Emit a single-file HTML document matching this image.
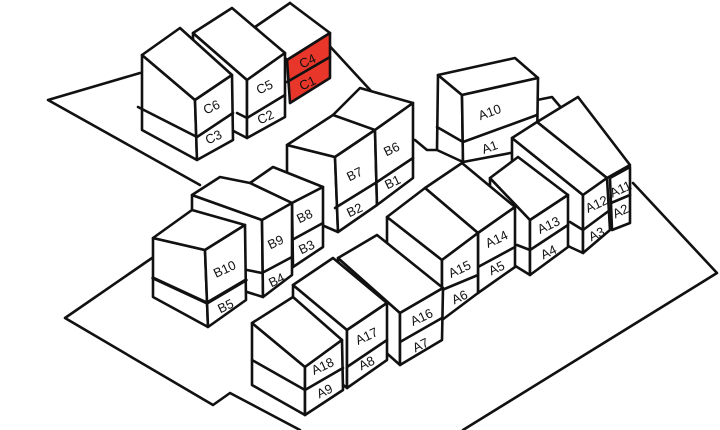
<!DOCTYPE html>
<html><head><meta charset="utf-8"><style>
html,body{margin:0;padding:0;background:#fff;}
svg{display:block;}
polygon,polyline,line{stroke:#111;stroke-width:2.6;stroke-linejoin:round;stroke-linecap:round;}
polygon{fill:#fff;}
polyline,line{fill:none;}
text{font-family:"Liberation Sans",sans-serif;font-size:13px;fill:#111;text-anchor:middle;dominant-baseline:middle;}
</style></head><body>
<svg width="720" height="430" viewBox="0 0 720 430" xmlns="http://www.w3.org/2000/svg">
<polyline points="140,73 48,100 200,185"/>
<polyline points="152,258 65,318 213,405 230,393 300,430"/>
<polyline points="633,183 717,273 463,430"/>
<polyline points="290,3 372,92"/>
<polyline points="415,140 427,150 436,150"/>
<polyline points="537,100 552,97 563,110"/>

<polygon points="255,27 290,3 330,33 287,60"/>
<polygon points="287,60 330,33 330,78 290,103" style="fill:#e8372a"/>
<line x1="287" y1="82" x2="330" y2="57"/>
<polygon points="193,33 247,80 247,138 193,110"/>
<polygon points="193,33 232,8 285,53 247,80"/>
<polygon points="247,80 285,53 285,117 247,138"/>
<polyline points="237,113 247,118 285,95"/>
<polygon points="142,55 195,100 197,160 142,130"/>
<polygon points="142,55 180,28 232,75 195,100"/>
<polygon points="195,100 232,75 233,140 197,160"/>
<polyline points="138,107 197,137 233,113"/>

<polygon points="438,75 462,95 463,162 437,150"/>
<polygon points="438,75 515,58 538,78 462,95"/>
<polygon points="462,95 538,78 537,148 463,162"/>
<polyline points="437,127 463,142 537,115"/>

<polygon points="287,145 335,157 338,232 287,210"/>
<polygon points="287,145 333,115 360,88 413,103 375,130 335,157"/>
<line x1="333" y1="115" x2="375" y2="130"/>
<polygon points="335,157 375,130 377,205 338,232"/>
<polygon points="375,130 413,103 413,178 377,205"/>
<polyline points="335,208 377,182 413,158"/>

<polygon points="537,122 578,97 630,165 607,178"/>
<polygon points="512,138 583,195 583,253 570,247 512,205"/>
<polygon points="512,138 537,122 607,178 583,195"/>
<polygon points="583,195 607,178 610,230 583,253"/>
<polyline points="570,222 583,230 610,210"/>
<polygon points="610,178 630,167 630,223 612,230"/>
<line x1="611" y1="203" x2="630" y2="195"/>

<polygon points="490,178 530,220 530,275 517,267 490,250"/>
<polygon points="490,178 518,157 568,195 530,220"/>
<polygon points="530,220 568,195 568,247 530,275"/>
<polyline points="517,245 530,250 568,225"/>
<polygon points="425,188 478,233 478,293 425,260"/>
<polygon points="425,188 462,163 515,207 478,233"/>
<polygon points="478,233 515,207 515,267 478,293"/>
<line x1="478" y1="267" x2="515" y2="247"/>
<polygon points="387,217 442,260 442,320 387,290"/>
<polygon points="387,217 425,188 478,233 442,260"/>
<polygon points="442,260 478,233 478,293 442,320"/>
<line x1="442" y1="290" x2="478" y2="275"/>

<polygon points="250,183 292,203 293,267 250,250"/>
<polygon points="250,183 273,167 323,187 292,203"/>
<polygon points="292,203 323,187 323,247 293,267"/>
<line x1="292" y1="240" x2="323" y2="223"/>
<polygon points="192,195 262,220 263,297 247,292 192,265"/>
<polygon points="192,195 220,177 250,183 292,203 262,220"/>
<polygon points="262,220 292,203 292,275 263,297"/>
<polyline points="247,270 262,273 292,257"/>
<polygon points="153,238 205,250 208,327 153,297"/>
<polygon points="153,238 192,210 245,225 205,250"/>
<polygon points="205,250 245,225 246,300 208,327"/>
<polyline points="153,278 207,303 246,280" style="stroke-width:3.4"/>

<polygon points="338,258 400,313 400,365 338,310"/>
<polygon points="338,258 377,235 443,288 400,313"/>
<polygon points="400,313 443,288 442,340 400,365"/>
<line x1="400" y1="342" x2="442" y2="318"/>
<polygon points="293,285 347,330 347,388 293,345"/>
<polygon points="293,285 333,258 387,303 347,330"/>
<polygon points="347,330 387,303 387,360 347,388"/>
<line x1="347" y1="367" x2="387" y2="340"/>
<polygon points="252,323 305,367 305,415 252,385"/>
<polygon points="252,323 293,297 342,340 305,367"/>
<polygon points="305,367 342,340 343,390 305,415"/>
<polyline points="252,360 305,390 343,368"/>

<g>
<text x="212" y="108" transform="rotate(-25 212 108)" font-size="15">C6</text>
<text x="214" y="138" transform="rotate(-25 214 138)">C3</text>
<text x="265" y="88" transform="rotate(-25 265 88)" font-size="15">C5</text>
<text x="266" y="118" transform="rotate(-25 266 118)">C2</text>
<text x="308" y="62" transform="rotate(-25 308 62)">C4</text>
<text x="308" y="84" transform="rotate(-25 308 84)">C1</text>
<text x="490" y="113" transform="rotate(-20 490 113)">A10</text>
<text x="490" y="148" transform="rotate(-20 490 148)">A1</text>
<text x="355" y="175" transform="rotate(-25 355 175)">B7</text>
<text x="392" y="150" transform="rotate(-25 392 150)">B6</text>
<text x="355" y="211" transform="rotate(-25 355 211)">B2</text>
<text x="393" y="183" transform="rotate(-25 393 183)">B1</text>
<text x="305" y="217" transform="rotate(-25 305 217)">B8</text>
<text x="307" y="248" transform="rotate(-25 307 248)">B3</text>
<text x="276" y="243" transform="rotate(-25 276 243)">B9</text>
<text x="277" y="281" transform="rotate(-25 277 281)">B4</text>
<text x="225" y="270" transform="rotate(-25 225 270)">B10</text>
<text x="226" y="307" transform="rotate(-25 226 307)">B5</text>
<text x="597" y="205" transform="rotate(-25 597 205)">A12</text>
<text x="597" y="235" transform="rotate(-25 597 235)">A3</text>
<text x="621" y="190" transform="rotate(-25 621 190)" font-size="11">A11</text>
<text x="621" y="212" transform="rotate(-25 621 212)" font-size="11">A2</text>
<text x="549" y="226" transform="rotate(-25 549 226)">A13</text>
<text x="549" y="253" transform="rotate(-25 549 253)">A4</text>
<text x="497" y="240" transform="rotate(-25 497 240)">A14</text>
<text x="497" y="269" transform="rotate(-25 497 269)">A5</text>
<text x="460" y="270" transform="rotate(-25 460 270)">A15</text>
<text x="460" y="298" transform="rotate(-25 460 298)">A6</text>
<text x="422" y="318" transform="rotate(-25 422 318)">A16</text>
<text x="421" y="346" transform="rotate(-25 421 346)">A7</text>
<text x="367" y="337" transform="rotate(-25 367 337)">A17</text>
<text x="367" y="364" transform="rotate(-25 367 364)">A8</text>
<text x="323" y="367" transform="rotate(-25 323 367)">A18</text>
<text x="325" y="392" transform="rotate(-25 325 392)">A9</text>
</g>
</svg>
</body></html>
